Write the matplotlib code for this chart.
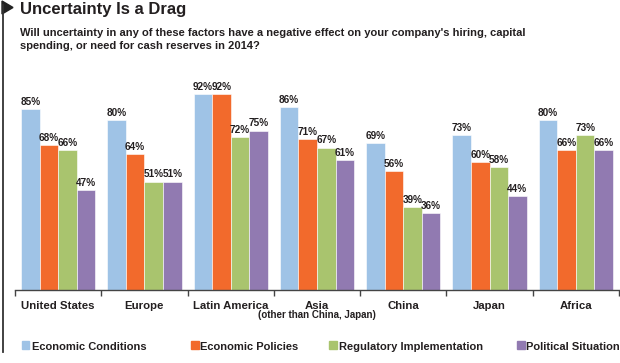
import numpy as np
import matplotlib
matplotlib.use("Agg")
import matplotlib.pyplot as plt
from matplotlib.patches import Rectangle, Polygon
from matplotlib.lines import Line2D

# --- dados ---
categories = ["United States", "Europe", "Latin America", "Asia", "China", "Japan", "Africa"]
series_names = ["Economic Conditions", "Economic Policies", "Regulatory Implementation", "Political Situation"]
economic_conditions = [85, 80, 92, 86, 69, 73, 80]
economic_policies = [68, 64, 92, 71, 56, 60, 66]
regulatory_impl = [66, 51, 72, 67, 39, 58, 73]
political_situation = [47, 51, 75, 61, 36, 44, 66]
series = [economic_conditions, economic_policies, regulatory_impl, political_situation]
colors = ["#9fc3e6", "#f26a2c", "#a9c46e", "#917ab1"]

TXT = "#231f20"
plt.rcParams['font.family'] = ['Liberation Sans', 'DejaVu Sans']

W, H = 620, 363
fig = plt.figure(figsize=(W / 100, H / 100), dpi=100)
ax = fig.add_axes([15 / W, (H - 290) / H, 604 / W, 212.6 / H])


def fy(px):
    # pixels from top -> figure fraction
    return 1 - px / H


n = len(categories)
x = np.arange(n)
bw = 0.215
for i, vals in enumerate(series):
    pos = x + (i - 1.5) * bw
    bars = ax.bar(pos, vals, width=bw, color=colors[i], edgecolor="white", linewidth=0.4)
    for b, v in zip(bars, vals):
        ax.annotate(f"{v}%", (b.get_x() + b.get_width() / 2, v), xytext=(0, 3),
                    textcoords="offset points", ha="center", va="baseline",
                    fontsize=7.2, fontweight="bold", color=TXT)

ax.set_xlim(-0.5, n - 0.5)
ax.set_ylim(0, 100)
for s in ["top", "right", "left"]:
    ax.spines[s].set_visible(False)
ax.spines["bottom"].set_color("#444444")
ax.spines["bottom"].set_linewidth(1)
ax.set_yticks([])
ax.set_xticks(np.arange(n + 1) - 0.5)
ax.set_xticklabels([])
ax.tick_params(axis="x", length=4, width=1, color="#444444", direction="out")

for i, c in enumerate(categories):
    fig.text(ax.transData.transform((i, 0))[0] / W, fy(309), c, ha="center", va="baseline",
             fontsize=8.2, fontweight="bold", color=TXT)
fig.text(ax.transData.transform((3, 0))[0] / W, fy(318.5), "(other than China, Japan)",
         ha="center", va="baseline", fontsize=7, fontweight="bold", color=TXT)

# titulo
fig.text(20 / W, fy(14), "Uncertainty Is a Drag", ha="left", va="baseline",
         fontsize=12, fontweight="bold", color=TXT)
fig.text(20 / W, fy(36),
         "Will uncertainty in any of these factors have a negative effect on your company's hiring, capital",
         ha="left", va="baseline", fontsize=8, fontweight="bold", color=TXT)
fig.text(20 / W, fy(49), "spending, or need for cash reserves in 2014?",
         ha="left", va="baseline", fontsize=8, fontweight="bold", color=TXT)

# linha lateral e seta
fig.add_artist(Line2D([2.5 / W, 2.5 / W], [fy(5), fy(352)], color="#333333", linewidth=1.3))
fig.add_artist(Polygon([[2 / W, fy(1)], [13 / W, fy(7.5)], [2 / W, fy(14)]],
                       closed=True, color="#222222", transform=fig.transFigure))

# legenda
leg_x = [22, 191, 329, 517]
for lx, name, col in zip(leg_x, series_names, colors):
    fig.add_artist(Rectangle((lx / W, fy(349)), 7.5 / W, 8 / H, color=col,
                             transform=fig.transFigure))
    fig.text((lx + 9.5) / W, fy(350), name, ha="left", va="baseline",
             fontsize=8, fontweight="bold", color=TXT)

fig.savefig("out.png", dpi=100)
